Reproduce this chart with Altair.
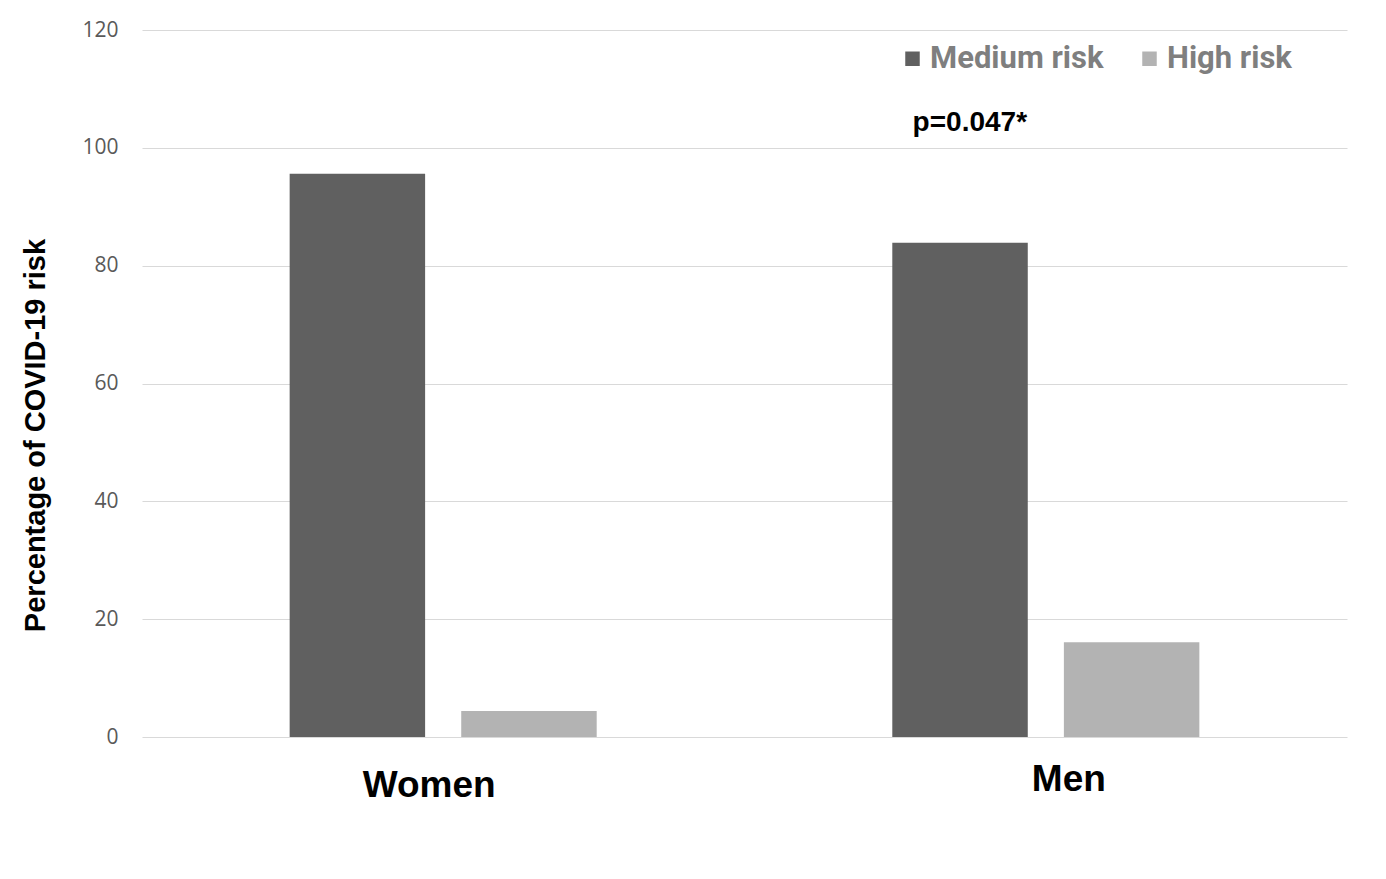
import altair as alt
import pandas as pd

sexes = ["Women", "Women", "Men", "Men"]
risk = ["Medium risk", "High risk", "Medium risk", "High risk"]
values = [95.6, 4.4, 83.9, 16.1]

annot_text = ["p=0.047*"]
annot_sex = ["Men"]
annot_y = [104.2]

df = pd.DataFrame({"sex": sexes, "risk": risk, "value": values})
adf = pd.DataFrame({"sex": annot_sex, "y": annot_y, "label": annot_text})

x_scale = alt.Scale(domain=["Women", "Men"], paddingInner=0.4905, paddingOuter=0.245)
y_scale = alt.Scale(domain=[0, 120])

bars = alt.Chart(df).mark_bar().encode(
    x=alt.X("sex:N", scale=x_scale, sort=["Women", "Men"],
            axis=alt.Axis(title=None, labelAngle=0, domain=False, ticks=False,
                          labelFont="Liberation Sans", labelFontWeight="bold",
                          labelFontSize=37, labelColor="#000000", labelBaseline="top",
                          labelPadding=alt.ExprRef("datum.value === 'Men' ? 24 : 30"),
                          labelOffset=alt.ExprRef("datum.value === 'Men' ? 23 : -14"))),
    xOffset=alt.XOffset("risk:N", sort=["Medium risk", "High risk"],
                        scale=alt.Scale(paddingInner=0.2105, paddingOuter=0)),
    y=alt.Y("value:Q", scale=y_scale,
            axis=alt.Axis(title="Percentage of COVID-19 risk", values=[0, 20, 40, 60, 80, 100, 120],
                          domain=False, ticks=False, labelPadding=24,
                          labelFont="Open Sans", labelFontSize=21, labelColor="#595959",
                          gridColor="#d9d9d9", gridWidth=1.2,
                          titleFont="Liberation Sans", titleFontWeight="bold", titleFontSize=29,
                          titleColor="#000000", titleX=-107, titleY=405, titleAngle=-90,
                          titleAlign="center", titleBaseline="middle")),
    color=alt.Color("risk:N", sort=["Medium risk", "High risk"],
                    scale=alt.Scale(domain=["Medium risk", "High risk"], range=["#606060", "#b3b3b3"]),
                    legend=alt.Legend(title=None, orient="none", direction="horizontal",
                                      legendX=755, legendY=13, symbolType="square", symbolSize=210,
                                      symbolStrokeWidth=0, columnPadding=30, labelOffset=2,
                                      labelFont="Roboto", labelFontWeight="bold", labelFontSize=31,
                                      labelColor="#7f7f7f", labelLimit=300)),
)

annot = alt.Chart(adf).mark_text(font="Liberation Sans", fontWeight="bold", fontSize=28,
                                 color="#000000", dx=-76).encode(
    x=alt.X("sex:N", scale=x_scale, sort=["Women", "Men"]),
    y=alt.Y("y:Q", scale=y_scale),
    text="label:N",
)

chart = (bars + annot).properties(
    width=1205, height=707,
    background="#ffffff",
    autosize=alt.AutoSizeParams(type="none"),
    padding={"left": 134, "top": 22, "right": 30, "bottom": 120},
).configure_view(stroke=None)

chart.save("out.html", embed_options={"renderer": "svg", "actions": False})
